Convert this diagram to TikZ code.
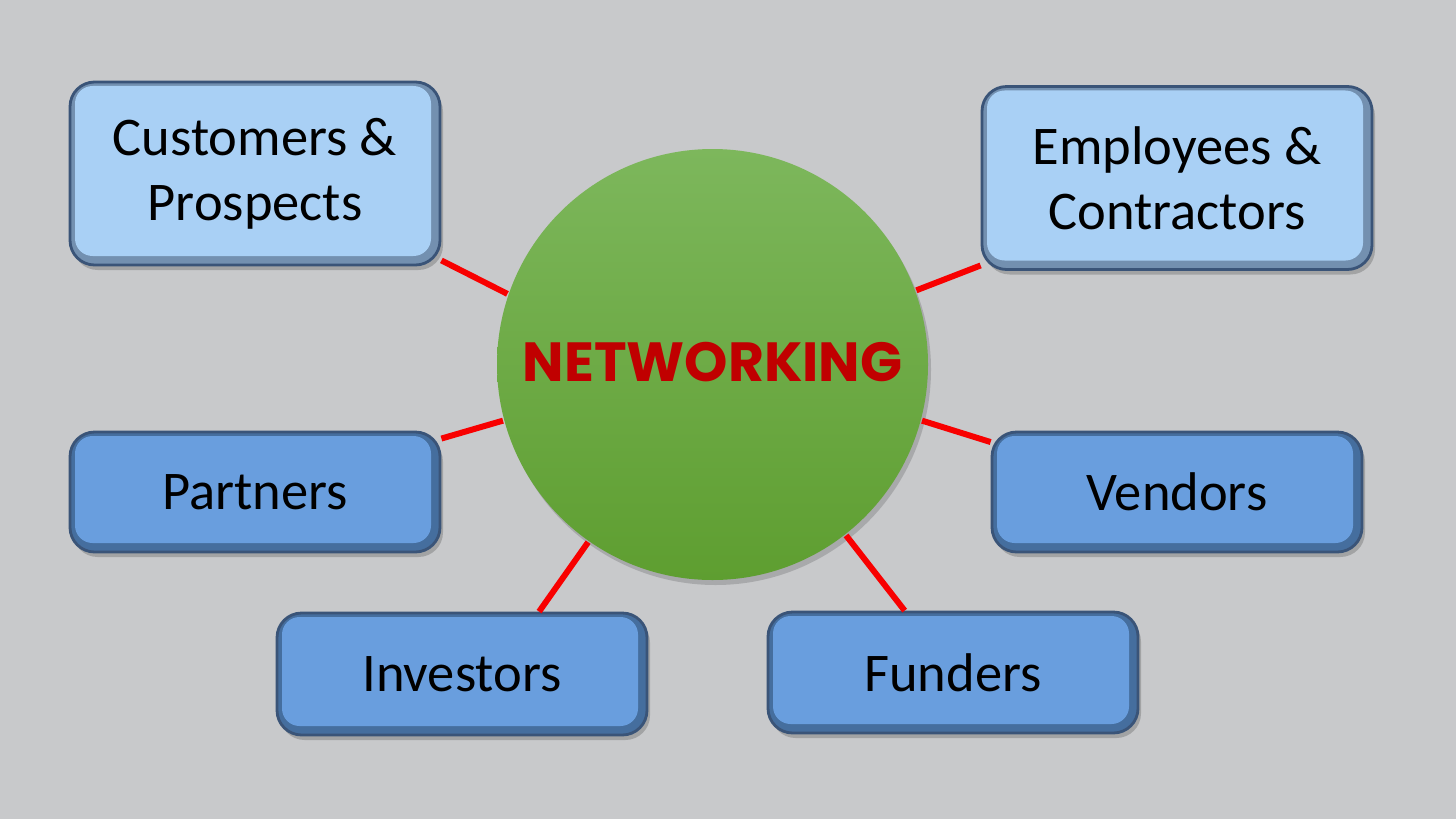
\documentclass[tikz,border=0pt]{standalone}
\usepackage{fontspec}
\setmainfont{Carlito}
\newfontfamily\netfont{Poppins}
\usepackage{tikz}
\usetikzlibrary{calc}
\usetikzlibrary{shadows}

\definecolor{bg}{HTML}{C8C9CB}
\definecolor{boxline}{HTML}{3A5478}
\definecolor{lightface}{HTML}{A9D0F5}
\definecolor{lightbevel}{HTML}{7390B0}
\definecolor{darkface}{HTML}{699EDE}
\definecolor{darkbevel}{HTML}{456E9E}
\definecolor{greentop}{HTML}{7DB75C}
\definecolor{greenbot}{HTML}{5E9E30}
\definecolor{linkred}{HTML}{F80000}
\definecolor{netred}{HTML}{C00000}

\begin{document}
\begin{tikzpicture}[thick,
    main/.style = {draw=boxline, line width=0.8pt, rounded corners=7pt, minimum width=3.7cm, text=black,
        font=\fontsize{15.5}{18.5}\selectfont, align=center,
        drop shadow={shadow xshift=0.3mm, shadow yshift=-0.5mm, opacity=0.3, fill=black!70}},
    face/.style = {path picture={\fill[#1, rounded corners=5pt]
        ($(path picture bounding box.south west)+(0.05,0.09)$) rectangle
        ($(path picture bounding box.north east)+(-0.09,-0.04)$);}},
    light/.style = {main, fill=lightbevel, face=lightface, minimum height=1.83cm},
    dark/.style = {main, fill=darkbevel, face=darkface, minimum height=1.2cm},
    link/.style = {draw=linkred, line width=1.7pt}]

    \useasboundingbox[fill=bg] (0, 0) rectangle (14.56, 8.19);

    \node [circle, minimum size=4.31cm, top color=greentop, bottom color=greenbot,
        drop shadow={shadow xshift=0.3mm, shadow yshift=-0.5mm, opacity=0.25, fill=black!70},
        text=netred, font=\netfont\bfseries\fontsize{15.7}{18}\selectfont] (0) at (7.125, 4.545)
        {\raisebox{0.05cm}{NETWORKING}};

    \node [light] (1) at (2.55, 6.455) {Customers \&\\Prospects};
    \node [light, minimum width=3.9cm] (2) at (11.77, 6.41) {Employees \&\\Contractors};
    \node [dark] (3) at (2.55, 3.27) {Partners};
    \node [dark] (4) at (11.77, 3.27) {Vendors};
    \node [dark, minimum height=1.22cm] (5) at (4.62, 1.45) {Investors};
    \node [dark, minimum height=1.21cm] (6) at (9.53, 1.465) {Funders};

    \draw[link] (0.161) to (1.-25);
    \draw[link] (0.20) to (2.204);
    \draw[link] (0.195) to (3.16);
    \draw[link] (0.-15) to (4.165);
    \draw[link] (0.235) to (5.39);
    \draw[link] (0.-52) to (6.128);

\end{tikzpicture}
\end{document}
